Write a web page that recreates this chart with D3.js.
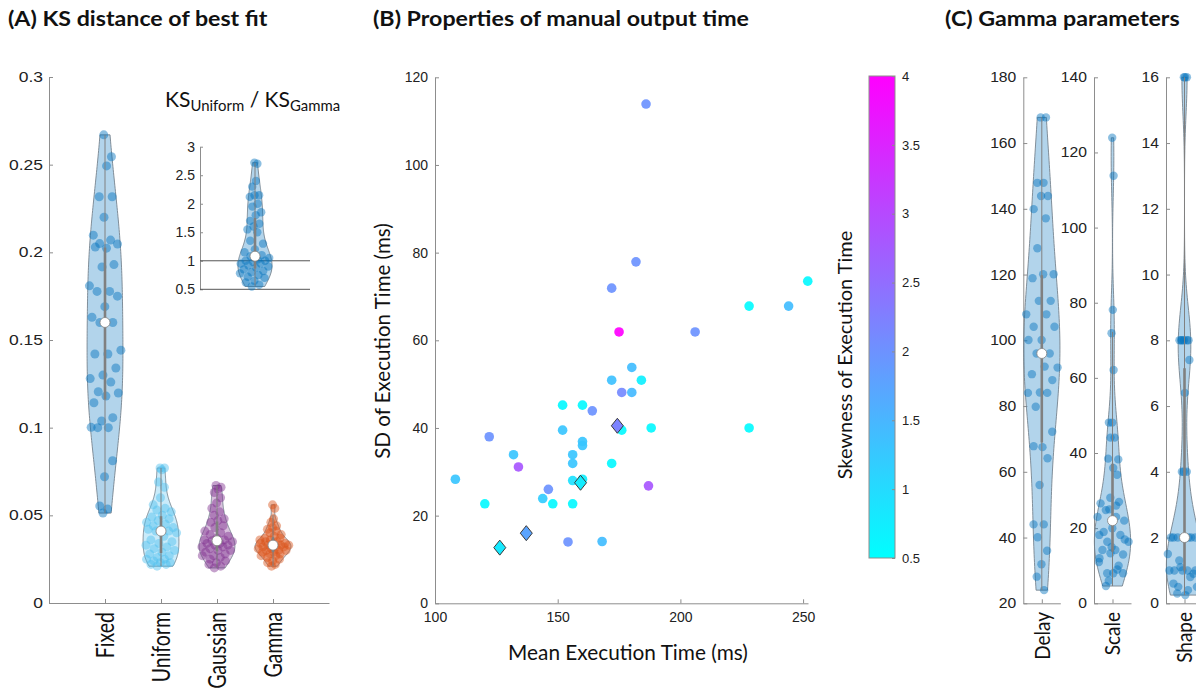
<!DOCTYPE html>
<html><head><meta charset="utf-8">
<script src="https://cdn.jsdelivr.net/npm/d3@7"></script>
<style>
html,body{margin:0;padding:0;background:#fff;}
svg{display:block;}
</style></head>
<body><svg id="fig" width="1196" height="691"></svg>
<script>
// ---------- Panel A: KS distance of the best fit per model ----------
const ksCategories = ["Fixed", "Uniform", "Gaussian", "Gamma"];
const ksFixed = [0.267, 0.2545, 0.2493, 0.2317, 0.2317, 0.220, 0.2098, 0.207, 0.205, 0.2047, 0.2024,
  0.203, 0.193, 0.1917, 0.1809, 0.1777, 0.1777, 0.175, 0.169, 0.163, 0.160, 0.160, 0.1442, 0.142,
  0.142, 0.134, 0.130, 0.128, 0.126, 0.1205, 0.1198, 0.118, 0.1142, 0.1057, 0.1038, 0.1002, 0.100,
  0.100, 0.0811, 0.072, 0.0553, 0.0536, 0.0513];
const ksUniform = [0.077, 0.077, 0.076, 0.069, 0.066, 0.060, 0.056, 0.054, 0.053, 0.052, 0.050,
  0.049, 0.048, 0.047, 0.046, 0.045, 0.044, 0.043, 0.042, 0.042, 0.041, 0.041, 0.040, 0.038, 0.036,
  0.035, 0.034, 0.033, 0.032, 0.031, 0.030, 0.029, 0.028, 0.027, 0.026, 0.025, 0.025, 0.024, 0.023,
  0.023, 0.022, 0.022, 0.021];
const ksGaussian = [0.067, 0.066, 0.065, 0.063, 0.060, 0.057, 0.054, 0.052, 0.050, 0.048, 0.047,
  0.046, 0.044, 0.043, 0.041, 0.040, 0.039, 0.038, 0.037, 0.036, 0.036, 0.0355, 0.035, 0.034, 0.034,
  0.033, 0.033, 0.032, 0.032, 0.031, 0.030, 0.030, 0.029, 0.028, 0.027, 0.027, 0.026, 0.025, 0.024,
  0.023, 0.022, 0.021, 0.020];
const ksGamma = [0.056, 0.054, 0.048, 0.046, 0.044, 0.043, 0.042, 0.041, 0.040, 0.039, 0.038, 0.037,
  0.037, 0.036, 0.036, 0.035, 0.035, 0.034, 0.034, 0.034, 0.033, 0.033, 0.033, 0.032, 0.032, 0.032,
  0.031, 0.031, 0.030, 0.030, 0.030, 0.029, 0.029, 0.028, 0.028, 0.027, 0.027, 0.026, 0.025, 0.024,
  0.023, 0.022, 0.021];
const ksTicks = [0, 0.05, 0.1, 0.15, 0.2, 0.25, 0.3];

// ratio KS(Uniform) / KS(Gamma)
const ksRatio = [2.72, 2.70, 2.40, 2.30, 2.15, 2.15, 2.12, 2.00, 1.95, 1.85, 1.80, 1.70, 1.65, 1.60,
  1.55, 1.50, 1.35, 1.30, 1.20, 1.15, 1.10, 1.08, 1.05, 1.02, 1.00, 1.00, 0.98, 0.95, 0.95, 0.92,
  0.90, 0.88, 0.85, 0.82, 0.80, 0.78, 0.75, 0.72, 0.70, 0.65, 0.62, 0.58, 0.55];
const ratioTicks = [0.5, 1, 1.5, 2, 2.5, 3];

// ---------- Panel B: execution time per subject ----------
const meanTime = [186.0, 181.9, 172.0, 175.0, 206.0, 228.0, 244.1, 251.9, 180.2, 172.0, 184.1, 176.1,
  180.2, 152.0, 160.1, 164.1, 152.0, 176.1, 188.1, 228.0, 122.1, 160.1, 160.1, 132.0, 156.1, 156.1,
  172.0, 134.0, 108.3, 156.1, 160.1, 187.0, 146.2, 143.9, 120.3, 148.0, 156.1, 154.2, 168.1,
  174.3, 159.3, 137.2, 126.4];
const sdTime = [113.9, 77.9, 71.9, 61.9, 61.9, 67.8, 67.8, 73.5, 53.8, 50.9, 50.9, 48.1, 48.1, 45.2,
  45.2, 43.9, 39.5, 39.5, 40.0, 40.0, 38.0, 36.9, 36.0, 33.9, 33.9, 31.9, 31.9, 31.1, 28.3, 28.0,
  28.3, 26.8, 26.0, 23.9, 22.7, 22.7, 22.7, 14.0, 14.1, 40.5, 27.5, 16.0, 12.7];
const skewTime = [2.0, 2.0, 2.0, 4.0, 2.0, 0.55, 1.4, 0.6, 1.4, 1.35, 0.7, 2.1, 1.45, 0.6, 0.6, 2.0,
  1.3, 0.6, 0.6, 0.55, 2.0, 1.3, 1.3, 1.3, 1.3, 1.3, 0.6, 2.8, 1.3, 0.9, 0.7, 2.8, 2.0, 1.2, 0.6,
  0.6, 0.6, 2.0, 1.4, 2.2, 0.75, 1.75, 0.8];
const diamondSubjects = [39, 40, 41, 42];
const meanTicks = [100, 150, 200, 250];
const sdTicks = [0, 20, 40, 60, 80, 100, 120];
const skewTicks = [0.5, 1, 1.5, 2, 2.5, 3, 3.5, 4];

// ---------- Panel C: fitted gamma parameters ----------
const gammaNames = ["Delay", "Scale", "Shape"];
const gammaDelay = [167.8, 167.8, 147.9, 147.9, 143.9, 143.9, 139.9, 137.1, 128, 120.1, 120.1, 118.9,
  112, 112, 107.9, 107.9, 104.1, 104.1, 100.1, 100.1, 96, 96, 91.7, 92, 89.7, 87.9, 84.1, 84, 84,
  79.8, 72.2, 67.5, 67.8, 64.1, 56, 44, 44, 40.1, 36, 31.9, 28.1, 24];
const gammaScale = [123.9, 113.8, 78.1, 71.9, 62.1, 48.1, 48.1, 44.1, 44.1, 38.3, 36, 38.5, 34.2,
  28.1, 26.6, 26, 24.8, 22, 20, 18.2, 18.2, 16.4, 16.4, 14.2, 14.2, 13, 13.3, 11, 9, 8, 8, 8, 4.6,
  27, 25, 23, 23, 19, 17, 15, 12, 10, 6];
const gammaShape = [16, 16, 16, 8, 8, 8, 8, 8, 8, 7.4, 6.4, 4, 4, 4, 2, 2, 2, 2, 2, 2, 2, 1.3, 1, 1,
  1, 1, 1, 1, 0.8, 0.5, 0.5, 0.25, 0.6, 0.9, 1.1, 1.5, 0.4, 0.3];
const delayTicks = [20, 40, 60, 80, 100, 120, 140, 160, 180];
const scaleTicks = [0, 20, 40, 60, 80, 100, 120, 140];
const shapeTicks = [0, 2, 4, 6, 8, 10, 12, 14, 16];

// ---------- shared styling ----------
const svg = d3.select("#fig");
const AXIS = "#8d8d8d", TXT = "#222";
const tickFont = "'Liberation Sans', Arial, Helvetica, sans-serif";
const labelFont = "Lato, 'Open Sans', sans-serif";
const BLUE = "#0072BD", LIGHTBLUE = "#4DBEEE", PURPLE = "#7E2F8E", ORANGE = "#D95319";
const cool = d3.scaleLinear().domain([0.5, 4]).range(["#00ffff", "#ff00ff"]);

function styleAxis(g, stretch, pad) {
  g.attr("font-family", tickFont).attr("font-size", 14);
  g.select(".domain").attr("stroke", AXIS);
  g.selectAll(".tick line").attr("stroke", AXIS);
  g.selectAll(".tick text").attr("fill", TXT);
  if (stretch) {
    g.selectAll(".tick text").attr("transform", `scale(${stretch},1)`).attr("x", -pad / stretch);
  }
}

// Gaussian kernel density with the normal-reference bandwidth (MAD based)
function bandwidth(values) {
  const med = d3.median(values);
  let sig = d3.median(values, v => Math.abs(v - med)) / 0.6745;
  if (!sig) sig = d3.deviation(values);
  return sig * Math.pow(4 / (3 * values.length), 0.2);
}
function densityAt(values, h, y) {
  return d3.sum(values, v => Math.exp(-0.5 * ((y - v) / h) ** 2)) / (values.length * h * Math.sqrt(2 * Math.PI));
}
const jitter = i => ((i * 0.6180339887 + 0.37) % 1) * 2 - 1;

function violin(g, values, cx, xs, ys, halfW, color, r) {
  const sorted = values.slice().sort(d3.ascending);
  const h = bandwidth(sorted);
  const lo = sorted[0], hi = sorted[sorted.length - 1];
  const grid = d3.range(121).map(i => lo + (hi - lo) * i / 120);
  const dens = grid.map(y => [y, densityAt(sorted, h, y)]);
  const k = halfW / d3.max(dens, d => d[1]);
  const area = d3.area().y(d => ys(d[0]))
    .x0(d => xs(cx - d[1] * k)).x1(d => xs(cx + d[1] * k));
  g.append("path").datum(dens).attr("d", area)
    .attr("fill", color).attr("fill-opacity", 0.3)
    .attr("stroke", "#76838f").attr("stroke-width", 0.9);
  g.append("g").selectAll("circle").data(values).join("circle")
    .attr("cx", (v, i) => xs(cx + jitter(i) * densityAt(sorted, h, v) * k * 0.95))
    .attr("cy", v => ys(v)).attr("r", r)
    .attr("fill", color).attr("fill-opacity", 0.45);
  const q1 = d3.quantile(sorted, 0.25), q3 = d3.quantile(sorted, 0.75), med = d3.median(sorted);
  const iqr = q3 - q1;
  const wLo = Math.max(lo, q1 - 1.5 * iqr), wHi = Math.min(hi, q3 + 1.5 * iqr);
  g.append("line").attr("x1", xs(cx)).attr("x2", xs(cx)).attr("y1", ys(wLo)).attr("y2", ys(wHi))
    .attr("stroke", "#808080").attr("stroke-width", 1);
  g.append("line").attr("x1", xs(cx)).attr("x2", xs(cx)).attr("y1", ys(q1)).attr("y2", ys(q3))
    .attr("stroke", "#808080").attr("stroke-width", 2.6);
  g.append("circle").attr("cx", xs(cx)).attr("cy", ys(med)).attr("r", 5)
    .attr("fill", "#fff").attr("stroke", "#808080").attr("stroke-width", 0.8);
}

function title(x, txt) {
  svg.append("text").attr("transform", `translate(${x},26) scale(1.16,1)`).text(txt)
    .attr("font-family", labelFont).attr("font-weight", 700).attr("font-size", 20).attr("fill", "#111");
}
function vLabel(x, yTop, txt, size, stretch) {
  svg.append("text").attr("transform", `translate(${x},${yTop}) scale(${stretch},1) rotate(-90)`)
    .attr("text-anchor", "end").attr("dy", "0.36em").text(txt)
    .attr("font-family", labelFont).attr("font-size", size).attr("fill", "#111");
}

// ================= Panel A =================
title(8, "(A) KS distance of best fit");
const xA = d3.scaleLinear().domain([0, 5]).range([49, 329]);
const yA = d3.scaleLinear().domain([0, 0.3]).range([603, 77]);
const gA = svg.append("g");
const aLeft = gA.append("g").attr("transform", "translate(49,0)")
  .call(d3.axisLeft(yA).tickValues(ksTicks).tickFormat(d3.format("~g")).tickSizeInner(-4).tickSizeOuter(0).tickPadding(6));
styleAxis(aLeft, 1.25, 6);
const aBottom = gA.append("g").attr("transform", "translate(0,603)")
  .call(d3.axisBottom(xA).tickValues([1, 2, 3, 4]).tickFormat("").tickSizeInner(-4).tickSizeOuter(0));
styleAxis(aBottom);
const ksSeries = [ksFixed, ksUniform, ksGaussian, ksGamma];
const ksColors = [BLUE, LIGHTBLUE, PURPLE, ORANGE];
ksSeries.forEach((vals, i) => violin(gA, vals, i + 1, xA, yA, 0.32, ksColors[i], 4.5));
ksCategories.forEach((c, i) => vLabel(xA(i + 1), 612, c, 19.5, 1.25));

// inset: ratio of KS distances
const xI = d3.scaleLinear().domain([0, 2]).range([200, 310]);
const yI = d3.scaleLinear().domain([0.5, 3]).range([289.3, 146.7]);
const gI = svg.append("g");
const iLeft = gI.append("g").attr("transform", "translate(200,0)")
  .call(d3.axisLeft(yI).tickValues(ratioTicks).tickFormat(d3.format("~g")).tickSizeInner(-3).tickSizeOuter(0).tickPadding(5));
styleAxis(iLeft);
gI.append("line").attr("x1", xI(0)).attr("x2", xI(2)).attr("y1", yI(0.5)).attr("y2", yI(0.5))
  .attr("stroke", "#555").attr("stroke-width", 1);
gI.append("line").attr("x1", xI(0)).attr("x2", xI(2)).attr("y1", yI(1)).attr("y2", yI(1))
  .attr("stroke", "#555").attr("stroke-width", 1);
violin(gI, ksRatio, 1, xI, yI, 0.31, BLUE, 4.2);
const it = svg.append("text").attr("transform", "translate(165,107) scale(1.03,1)")
  .attr("font-family", labelFont).attr("font-size", 20.5).attr("fill", "#111");
it.append("tspan").text("KS");
it.append("tspan").text("Uniform").attr("font-size", 14.5).attr("dy", 4);
it.append("tspan").text(" / KS").attr("dy", -4);
it.append("tspan").text("Gamma").attr("font-size", 14.5).attr("dy", 4);

// ================= Panel B =================
title(373, "(B) Properties of manual output time");
const xB = d3.scaleLinear().domain([100, 252]).range([435, 808]);
const yB = d3.scaleLinear().domain([0, 120]).range([603.3, 77.3]);
const gB = svg.append("g");
const bLeft = gB.append("g").attr("transform", "translate(435,0)")
  .call(d3.axisLeft(yB).tickValues(sdTicks).tickSizeInner(-4).tickSizeOuter(0).tickPadding(7));
styleAxis(bLeft);
const bBottom = gB.append("g").attr("transform", "translate(0,603.3)")
  .call(d3.axisBottom(xB).tickValues(meanTicks).tickSizeInner(-4).tickSizeOuter(0).tickPadding(9));
styleAxis(bBottom);
const subjects = d3.range(meanTime.length);
const dotSubjects = subjects.filter(i => !diamondSubjects.includes(i));
gB.append("g").selectAll("circle").data(dotSubjects).join("circle")
  .attr("cx", i => xB(meanTime[i])).attr("cy", i => yB(sdTime[i])).attr("r", 4.8)
  .attr("fill", i => cool(skewTime[i])).attr("fill-opacity", 0.92);
gB.append("g").selectAll("path").data(diamondSubjects).join("path")
  .attr("transform", i => `translate(${xB(meanTime[i])},${yB(sdTime[i])})`)
  .attr("d", "M0,-7.5L6,0L0,7.5L-6,0Z")
  .attr("fill", i => cool(skewTime[i])).attr("stroke", "#3a3a3a").attr("stroke-width", 1);
svg.append("text").attr("x", 628).attr("y", 660).attr("text-anchor", "middle")
  .text("Mean Execution Time (ms)").attr("font-family", labelFont).attr("font-size", 20.8).attr("fill", "#111");
svg.append("text").attr("transform", "translate(383,341) rotate(-90)").attr("text-anchor", "middle")
  .attr("dy", "0.36em").text("SD of Execution Time (ms)")
  .attr("font-family", labelFont).attr("font-size", 20.5).attr("fill", "#111");

// colour bar
const yC = d3.scaleLinear().domain([0.5, 4]).range([558, 76]);
const defs = svg.append("defs");
const grad = defs.append("linearGradient").attr("id", "coolGrad")
  .attr("x1", 0).attr("y1", 1).attr("x2", 0).attr("y2", 0);
skewTicks.forEach(t => grad.append("stop").attr("offset", (t - 0.5) / 3.5).attr("stop-color", cool(t)));
svg.append("rect").attr("x", 869).attr("y", yC(4)).attr("width", 26).attr("height", yC(0.5) - yC(4))
  .attr("fill", "url(#coolGrad)").attr("stroke", "#8d8d8d").attr("stroke-width", 1);
const cAxis = svg.append("g").attr("transform", "translate(895,0)")
  .call(d3.axisRight(yC).tickValues(skewTicks).tickFormat(d3.format("~g")).tickSizeInner(-3).tickSizeOuter(0).tickPadding(7));
styleAxis(cAxis);
cAxis.attr("font-size", 13);
cAxis.select(".domain").remove();
svg.append("text").attr("transform", "translate(845,355) rotate(-90)").attr("text-anchor", "middle")
  .attr("dy", "0.36em").text("Skewness of Execution Time")
  .attr("font-family", labelFont).attr("font-size", 20).attr("fill", "#111");

// ================= Panel C =================
title(945, "(C) Gamma parameters");
const gammaSeries = [gammaDelay, gammaScale, gammaShape];
const gammaTicks = [delayTicks, scaleTicks, shapeTicks];
const gammaAxisX = [1023.3, 1094, 1166];
gammaSeries.forEach((vals, j) => {
  const ticks = gammaTicks[j];
  const ax = gammaAxisX[j];
  const xs = d3.scaleLinear().domain([0.5, 1.5]).range([ax, ax + 37]);
  const ys = d3.scaleLinear().domain([ticks[0], ticks[ticks.length - 1]]).range([603.3, 77.3]);
  const g = svg.append("g");
  const l = g.append("g").attr("transform", `translate(${ax},0)`)
    .call(d3.axisLeft(ys).tickValues(ticks).tickSizeInner(-4).tickSizeOuter(0).tickPadding(7));
  styleAxis(l, 1.12, 7);
  const b = g.append("g").attr("transform", "translate(0,603.3)")
    .call(d3.axisBottom(xs).tickValues([1]).tickFormat("").tickSizeInner(-4).tickSizeOuter(0));
  styleAxis(b);
  violin(g, vals, 1, xs, ys, 0.49, BLUE, 4.2);
  vLabel(xs(1), 612, gammaNames[j], 19, 1.15);
});
</script>
</body></html>
